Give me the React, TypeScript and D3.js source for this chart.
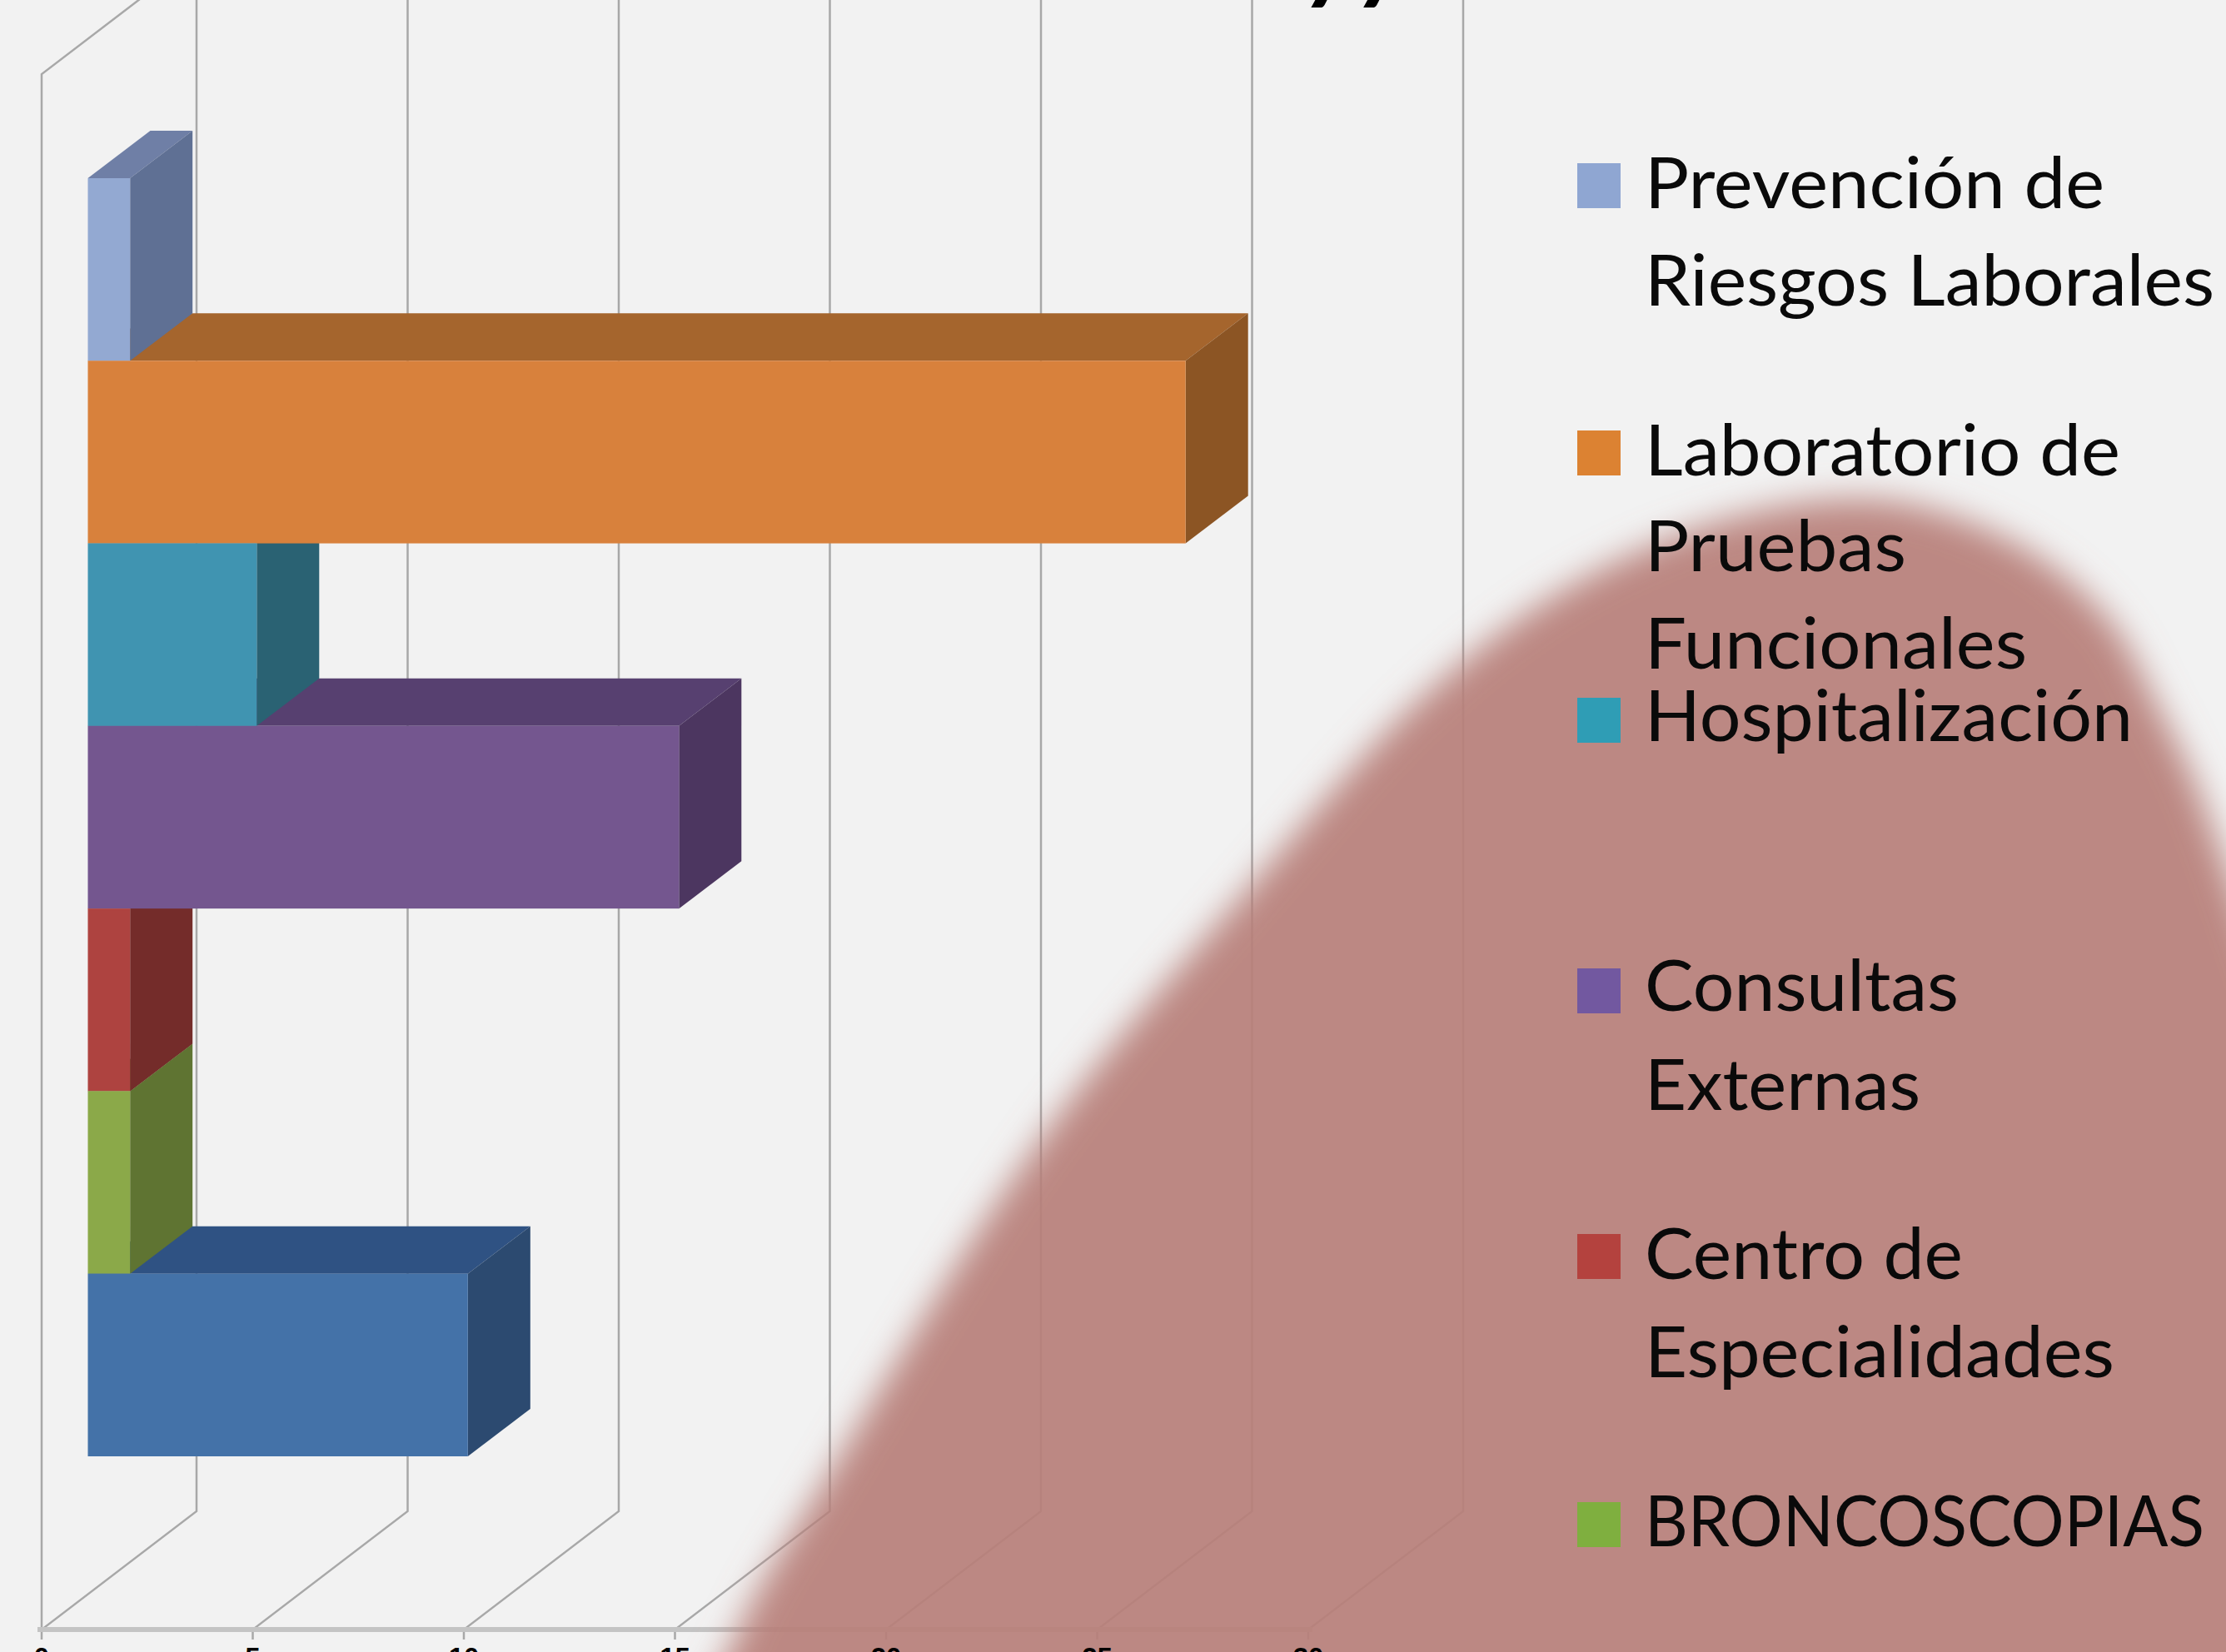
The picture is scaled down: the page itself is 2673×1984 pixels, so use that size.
import React from "react";
import * as d3 from "d3";

const W = 2673;
const H = 1984;

// Categories, top bar to bottom bar. The bottom bar's legend entry lies below the picture's edge.
const categories = [
  "Prevención de Riesgos Laborales",
  "Laboratorio de Pruebas Funcionales",
  "Hospitalización",
  "Consultas Externas",
  "Centro de Especialidades",
  "BRONCOSCOPIAS",
  "",
];
const values = [1, 26, 4, 14, 1, 1, 9];
const frontColors = ["#93A9D2", "#D8813C", "#4094B1", "#74568F", "#AE4340", "#8BA949", "#4472A8"];
const sideColors = ["#5F7094", "#8C5524", "#2A6273", "#4C3660", "#742C2A", "#5F7432", "#2C4A70"];
const topColors = ["#6F7FA6", "#A5652D", "#2F7287", "#574070", "#84332F", "#6B8338", "#2F5283"];

const tickValues = [0, 5, 10, 15, 20, 25, 30];

const legendLines = [
  ["Prevención de", "Riesgos Laborales"],
  ["Laboratorio de", "Pruebas", "Funcionales"],
  ["Hospitalización"],
  ["Consultas", "Externas"],
  ["Centro de", "Especialidades"],
  ["BRONCOSCOPIAS"],
];
const legendColors = ["#8FA6D2", "#DC8232", "#2F9DB5", "#7258A0", "#B4423E", "#7FAF3F"];
const legendSwatchCenters = [223, 544, 865, 1190, 1509, 1831];
const legendBaselines = [
  [250, 367],
  [571, 686, 803],
  [890],
  [1214, 1333],
  [1536, 1654],
  [1857],
];
const legendLineWidths = [
  [552, 684],
  [571, 314, 459],
  [586],
  [377, 331],
  [382, 564],
  [672],
];

const blobOutline: [number, number][] = [
  [860, 2060], [886, 1960], [1000, 1763], [1252, 1365], [1505, 1060], [1705, 840],
  [1875, 710], [2046, 632], [2200, 600], [2300, 607], [2433, 660], [2533, 745],
  [2593, 852], [2633, 933], [2667, 1022], [2730, 1200], [2850, 1500], [2850, 2100],
];

const DEPTH_X = 186;
const DEPTH_Y = 142;
const BAR_DX = 75;
const BAR_DY = 57;
const FRONT_ZERO = 50;
const PX_PER_UNIT = 50.7;
const AXIS_Y = 1957;
const WALL_TOP = 89;

const x = d3.scaleLinear().domain([0, 30]).range([FRONT_ZERO, FRONT_ZERO + 30 * PX_PER_UNIT]);
const y = d3.scaleBand().domain(categories).range([214, 1749]).paddingInner(0).paddingOuter(0);
const barX0 = 105.5;
const barLen = (v: number) => x(v) - x(0);
const poly = d3.line().curve(d3.curveLinearClosed);
const polyline = d3.line();
const blobPath = d3.line().curve(d3.curveCatmullRomClosed.alpha(0.5))(blobOutline) as string;

const GRID = "#A8A8A8";
const FONT = "Lato, sans-serif";

export default function App() {
  const bw = y.bandwidth();
  const order = categories.map((_, i) => i).reverse();
  return (
    <svg width={W} height={H} viewBox={`0 0 ${W} ${H}`} style={{ position: "absolute", left: 0, top: 0, display: "block" }}>
      <defs>
        <filter id="blobBlur" x="-10%" y="-10%" width="120%" height="120%">
          <feGaussianBlur stdDeviation="20" />
        </filter>
      </defs>
      <rect x={0} y={0} width={W} height={H} fill="#F2F2F2" />

      {/* clipped title fragment */}
      <text x={1570} y={-9} fontFamily={FONT} fontWeight={900} fontStyle="italic" fontSize={110} letterSpacing={8} fill="#000">yy</text>

      {/* walls and grid */}
      <path d={polyline([[x(0), AXIS_Y], [x(0), WALL_TOP], [x(0) + DEPTH_X, WALL_TOP - DEPTH_Y]]) as string} fill="none" stroke={GRID} strokeWidth={2.5} />
      {tickValues.map((t) => (
        <path
          key={t}
          d={polyline([[x(t), AXIS_Y + 12], [x(t), AXIS_Y], [x(t) + DEPTH_X, AXIS_Y - DEPTH_Y], [x(t) + DEPTH_X, -10]]) as string}
          fill="none"
          stroke={GRID}
          strokeWidth={2.5}
        />
      ))}
      <line x1={x(0) - 5} x2={x(30) + 5} y1={AXIS_Y} y2={AXIS_Y} stroke="#C4C4C4" strokeWidth={6} />

      {/* bar tops and sides, bottom bar first so that each side lies over the top face below it */}
      {order.map((i) => {
        const t = y(categories[i]) as number;
        const r = barX0 + barLen(values[i]);
        return (
          <g key={"back" + i}>
            <path d={poly([[barX0, t], [r, t], [r + BAR_DX, t - BAR_DY], [barX0 + BAR_DX, t - BAR_DY]]) as string} fill={topColors[i]} />
            <path d={poly([[r, t], [r + BAR_DX, t - BAR_DY], [r + BAR_DX, t + bw - BAR_DY], [r, t + bw]]) as string} fill={sideColors[i]} />
          </g>
        );
      })}
      {/* bar fronts */}
      {categories.map((c, i) => (
        <rect key={"front" + i} x={barX0} y={y(c) as number} width={barLen(values[i])} height={bw} fill={frontColors[i]} />
      ))}

      {/* blurred shape over the chart */}
      <path d={blobPath} fill="#B77F7A" fillOpacity={0.92} filter="url(#blobBlur)" />

      {/* tick labels, clipped by the lower edge */}
      {tickValues.map((t) => (
        <text key={t} x={x(t)} y={2002} textAnchor="middle" fontFamily="'Liberation Sans', sans-serif" fontWeight={700} fontSize={33} fill="#000">{t}</text>
      ))}

      {/* legend */}
      {legendLines.map((lines, i) => (
        <g key={i}>
          <rect x={1894} y={legendSwatchCenters[i] - 27} width={52} height={54} fill={legendColors[i]} />
          {lines.map((l, j) => (
            <text
              key={j}
              x={1975}
              y={legendBaselines[i][j]}
              textLength={legendLineWidths[i][j]}
              lengthAdjust="spacingAndGlyphs"
              fontFamily={FONT}
              fontSize={86}
              fill="#0A0A0A"
            >
              {l}
            </text>
          ))}
        </g>
      ))}
    </svg>
  );
}
